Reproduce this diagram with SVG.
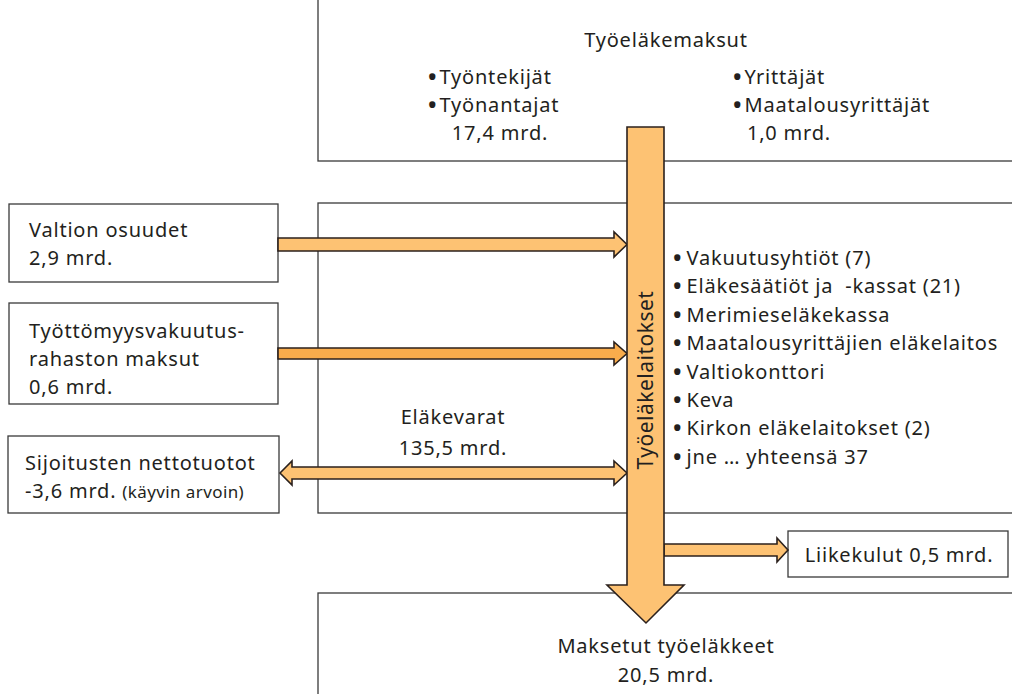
<svg xmlns="http://www.w3.org/2000/svg" width="1012" height="694" viewBox="0 0 1012 694">
<style>
.box{fill:#fff;stroke:#3a3a3a;stroke-width:1.3}
.arr{fill:#FDC273;stroke:#2b211d;stroke-width:1.6;stroke-linejoin:miter}
.arr2{fill:#F9AC4C;stroke:#2b211d;stroke-width:1.6}
text{font-family:"Noto Sans","Open Sans",sans-serif;font-size:20px;fill:#231f20;letter-spacing:0.8px}
.m{text-anchor:middle}
.s{font-size:17px;letter-spacing:0.4px}
.b{font-size:28px;letter-spacing:0}
</style>
<rect width="1012" height="694" fill="#fff"/>
<g id="tyoelakemaksut">
<rect class="box" x="318" y="-2" width="700" height="163"/>
<text class="m" x="666" y="47">Työeläkemaksut</text>
<text x="427" y="84"><tspan class="b" dy="3">•</tspan><tspan dx="2" dy="-3">Työntekijät</tspan></text>
<text x="427" y="112"><tspan class="b" dy="3">•</tspan><tspan dx="2" dy="-3">Työnantajat</tspan></text>
<text class="m" x="500" y="140">17,4 mrd.</text>
<text x="732" y="84"><tspan class="b" dy="3">•</tspan><tspan dx="2" dy="-3">Yrittäjät</tspan></text>
<text x="732" y="112"><tspan class="b" dy="3">•</tspan><tspan dx="2" dy="-3">Maatalousyrittäjät</tspan></text>
<text class="m" x="789" y="140">1,0 mrd.</text>
</g>
<g id="elakelaitokset-box">
<rect class="box" x="318" y="203" width="700" height="310"/>
<text x="672" y="265"><tspan class="b" dy="3">•</tspan><tspan dx="4" dy="-3">Vakuutusyhtiöt (7)</tspan></text>
<text x="672" y="293.4"><tspan class="b" dy="3">•</tspan><tspan dx="4" dy="-3">Eläkesäätiöt ja&#160; -kassat (21)</tspan></text>
<text x="672" y="321.8"><tspan class="b" dy="3">•</tspan><tspan dx="4" dy="-3">Merimieseläkekassa</tspan></text>
<text x="672" y="350.2"><tspan class="b" dy="3">•</tspan><tspan dx="4" dy="-3">Maatalousyrittäjien eläkelaitos</tspan></text>
<text x="672" y="378.6"><tspan class="b" dy="3">•</tspan><tspan dx="4" dy="-3">Valtiokonttori</tspan></text>
<text x="672" y="407"><tspan class="b" dy="3">•</tspan><tspan dx="4" dy="-3">Keva</tspan></text>
<text x="672" y="435.4"><tspan class="b" dy="3">•</tspan><tspan dx="4" dy="-3">Kirkon eläkelaitokset (2)</tspan></text>
<text x="672" y="463.8"><tspan class="b" dy="3">•</tspan><tspan dx="4" dy="-3">jne … yhteensä 37</tspan></text>
<text class="m" x="453" y="424">Eläkevarat</text>
<text class="m" x="453" y="455">135,5 mrd.</text>
</g>
<g id="maksetut">
<rect class="box" x="318" y="593" width="700" height="110"/>
<text class="m" x="666" y="653">Maksetut työeläkkeet</text>
<text class="m" x="666" y="682">20,5 mrd.</text>
</g>
<g id="valtion">
<rect class="box" x="9" y="204" width="269" height="78"/>
<text x="29" y="237">Valtion osuudet</text>
<text x="29" y="265">2,9 mrd.</text>
</g>
<g id="tyottomyys">
<rect class="box" x="9" y="303" width="269" height="101"/>
<text x="29" y="338">Työttömyysvakuutus-</text>
<text x="29" y="366">rahaston maksut</text>
<text x="29" y="394">0,6 mrd.</text>
</g>
<g id="sijoitusten">
<rect class="box" x="8" y="436" width="271" height="77"/>
<text x="25" y="470">Sijoitusten nettotuotot</text>
<text x="25" y="498">-3,6 mrd. <tspan class="s">(käyvin arvoin)</tspan></text>
</g>
<g id="liikekulut">
<rect class="box" x="788" y="531" width="220" height="46"/>
<text class="m" x="899" y="562">Liikekulut 0,5 mrd.</text>
</g>
<g id="connectors">
<polygon class="arr" points="278,238 614,238 614,232 627,244.5 614,257 614,251 278,251"/>
<polygon class="arr2" points="278,348 614,348 614,342 627,353.5 614,365 614,359 278,359"/>
<polygon class="arr" points="280,473 292,461 292,467 614,467 614,461 627,473 614,485 614,479 292,479 292,485"/>
<polygon class="arr" points="664,544 777,544 777,538 788,550 777,562 777,556 664,556"/>
<polygon class="arr" points="627,127 664,127 664,585 684,585 646,623 607,585 627,585"/>
</g>
<g id="tyoelakelaitokset">
<text class="m" transform="translate(653,380) rotate(-90)" style="font-size:21px;letter-spacing:0.5px">Työeläkelaitokset</text>
</g>
</svg>
